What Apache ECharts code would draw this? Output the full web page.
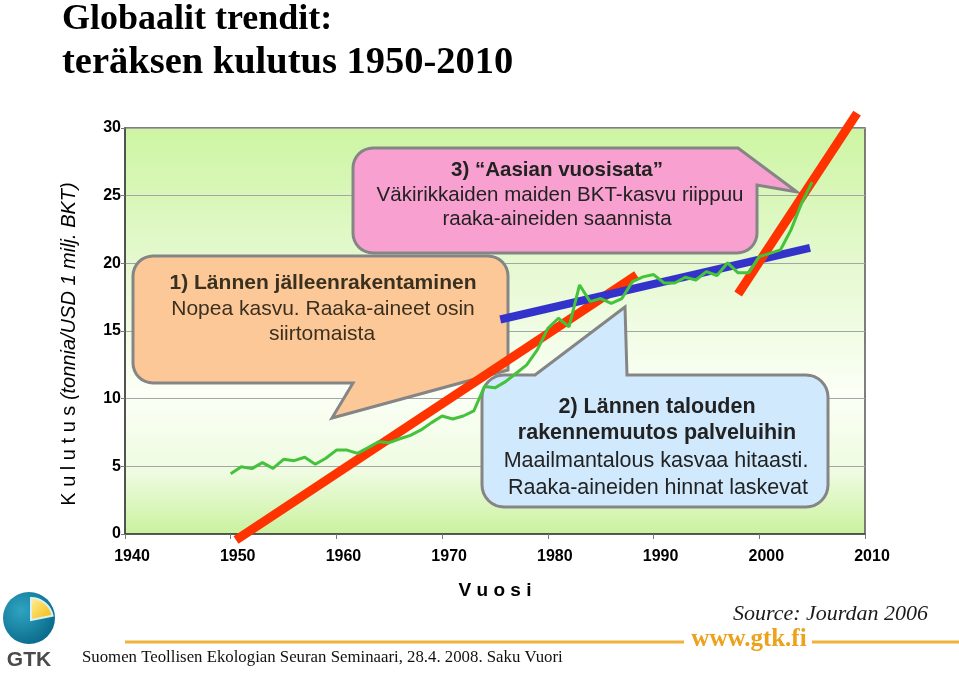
<!DOCTYPE html>
<html><head><meta charset="utf-8">
<script src="https://cdn.jsdelivr.net/npm/echarts@6/dist/echarts.min.js"></script>
<style>html,body{margin:0;padding:0;background:#fff}#c{width:959px;height:673px}</style>
</head><body><div id="c"></div>
<script>
// ---- data ----
const years = [1950,1951,1952,1953,1954,1955,1956,1957,1958,1959,1960,1961,1962,1963,1964,1965,1966,1967,1968,1969,1970,1971,1972,1973,1974,1975,1976,1977,1978,1979,1980,1981,1982,1983,1984,1985,1986,1987,1988,1989,1990,1991,1992,1993,1994,1995,1996,1997,1998,1999,2000,2001,2002,2003,2004,2005];
const consumption = [4.45,4.97,4.83,5.27,4.85,5.52,5.42,5.67,5.15,5.6,6.2,6.2,5.96,6.38,6.82,6.75,7.04,7.29,7.69,8.23,8.72,8.5,8.72,9.1,10.9,10.8,11.26,11.88,12.5,13.6,15.2,15.94,15.3,18.4,17.17,17.4,17.05,17.4,18.65,19.0,19.17,18.55,18.55,18.97,18.77,19.39,19.1,20.04,19.3,19.3,20.5,20.74,20.99,22.47,24.45,26.0];
const trendWest = [[1950.5,-0.44],[1988.4,19.14]];
const trendService = [[1975.5,15.85],[2004.8,21.14]];
const trendAsia = [[1998.0,17.74],[2009.25,31.1]];
const xTicks = {min:1940, max:2010, step:10};
const yTicks = {min:0, max:30, step:5};

const chart = echarts.init(document.getElementById('c'));

function arc(cx, cy, r, a0, a1) {
  const pts = [];
  const n = 8;
  for (let i = 0; i <= n; i++) {
    const a = (a0 + (a1 - a0) * i / n) * Math.PI / 180;
    pts.push([cx + r * Math.cos(a), cy + r * Math.sin(a)]);
  }
  return pts;
}
// callout shapes (annotation graphics)
function orangeShape(){ const x0=133,y0=256,x1=508,y1=383,r=20;
  return [...arc(x0+r,y0+r,r,180,270), ...arc(x1-r,y0+r,r,270,360), [x1,370],[332,418],[353,y1], ...arc(x0+r,y1-r,r,90,180)]; }
function pinkShape(){ const x0=353,y0=148,x1=757,y1=253,r=20;
  return [...arc(x0+r,y0+r,r,180,270), [738,y0],[797,192],[x1,185], ...arc(x1-r,y1-r,r,0,90), ...arc(x0+r,y1-r,r,90,180)]; }
function blueShape(){ const x0=482,y0=375,x1=828,y1=507,r=22;
  return [...arc(x0+r,y0+r,r,180,270), [535,y0],[625,307],[627,y0], ...arc(x1-r,y0+r,r,270,360), ...arc(x1-r,y1-r,r,0,90), ...arc(x0+r,y1-r,r,90,180)]; }

const sans = 'Liberation Sans, Arial, sans-serif';
const serif = 'Liberation Serif, Times New Roman, serif';
function txt(x, y, text, size, weight, color, align, extra) {
  return Object.assign({type:'text', x:x, y:y, z:5, silent:true,
    style:{text:text, fontSize:size, fontWeight:weight||'normal', fontFamily:sans, fill:color||'#2a2a2a', align:align||'center', verticalAlign:'middle'}}, extra||{});
}

const graphics = [
  {type:'polygon', z:1, shape:{points:orangeShape()}, style:{fill:'#fdc897', stroke:'#858585', lineWidth:3}},
  {type:'polygon', z:1, shape:{points:pinkShape()}, style:{fill:'#f8a1d0', stroke:'#858585', lineWidth:3}},
  {type:'polygon', z:1, shape:{points:blueShape()}, style:{fill:'#d0e9fc', stroke:'#858585', lineWidth:3}},
  txt(323, 283, '1) Lännen jälleenrakentaminen', 21, 'bold', '#3a3020'),
  txt(323, 309, 'Nopea kasvu. Raaka-aineet osin', 21, 'normal', '#3a3020'),
  txt(322, 334, 'siirtomaista', 21, 'normal', '#3a3020'),
  txt(557, 170, '3) \u201cAasian vuosisata\u201d', 20.5, 'bold', '#222'),
  txt(560, 195, 'Väkirikkaiden maiden BKT-kasvu riippuu', 20.5, 'normal', '#222'),
  txt(557, 219, 'raaka-aineiden saannista', 20.5, 'normal', '#222'),
  txt(657, 407, '2) Lännen talouden', 21.5, 'bold', '#222'),
  txt(657, 433, 'rakennemuutos palveluihin', 21.5, 'bold', '#222'),
  txt(656, 461, 'Maailmantalous kasvaa hitaasti.', 21.5, 'normal', '#222'),
  txt(658, 488, 'Raaka-aineiden hinnat laskevat', 21.5, 'normal', '#222'),
  // title
  {type:'text', x:62, y:20, z:5, style:{text:'Globaalit trendit:', fontSize:36, fontWeight:'bold', fontFamily:serif, fill:'#000', align:'left', verticalAlign:'middle'}},
  {type:'text', x:62, y:63, z:5, style:{text:'teräksen kulutus 1950-2010', fontSize:38.5, fontWeight:'bold', fontFamily:serif, fill:'#000', align:'left', verticalAlign:'middle'}},
  // footer
  {type:'text', x:928, y:614, z:5, style:{text:'Source: Jourdan 2006', fontSize:22, fontStyle:'italic', fontFamily:serif, fill:'#1a1a1a', align:'right', verticalAlign:'middle'}},
  {type:'line', z:5, shape:{x1:125, y1:642, x2:684, y2:642}, style:{stroke:'#f0b23a', lineWidth:3}},
  {type:'line', z:5, shape:{x1:812, y1:642, x2:959, y2:642}, style:{stroke:'#f0b23a', lineWidth:3}},
  {type:'text', x:749, y:640, z:5, style:{text:'www.gtk.fi', fontSize:25, fontWeight:'bold', fontFamily:serif, fill:'#eca21c', align:'center', verticalAlign:'middle'}},
  {type:'text', x:82, y:658, z:5, style:{text:'Suomen Teollisen Ekologian Seuran Seminaari, 28.4. 2008. Saku Vuori', fontSize:16.8, fontFamily:serif, fill:'#111', align:'left', verticalAlign:'middle'}},
  // GTK logo
  {type:'circle', z:5, shape:{cx:29, cy:618, r:26}, style:{fill:new echarts.graphic.RadialGradient(0.35,0.35,0.8,[{offset:0,color:'#2fa4c2'},{offset:1,color:'#066384'}])}},
  {type:'sector', z:6, shape:{cx:31, cy:620, r:22, r0:0, startAngle:-Math.PI/2, endAngle:-0.2}, style:{fill:new echarts.graphic.LinearGradient(0,0,1,1,[{offset:0,color:'#fff3a0'},{offset:1,color:'#f2b400'}]), stroke:'#d9f0f5', lineWidth:2}},
  {type:'text', x:29, y:660, z:5, style:{text:'GTK', fontSize:21, fontWeight:'bold', fontFamily:sans, fill:'#4a4a4a', align:'center', verticalAlign:'middle'}}
];

const lineSeries = (name, data, color, width, z) => ({
  name: name, type:'line', data: data, showSymbol:false, symbol:'none', clip:false, z:z,
  lineStyle:{color:color, width:width, cap:'butt'}, silent:true, animation:false
});

chart.setOption({
  animation:false,
  grid:{left:125, top:128, width:740, height:406, show:true, borderColor:'#555', borderWidth:1.5,
    backgroundColor:new echarts.graphic.LinearGradient(0,0,0,1,[
      {offset:0,color:'#cdf5a2'},{offset:0.35,color:'#e6f9d2'},{offset:0.65,color:'#fbfff6'},{offset:0.85,color:'#eefbe0'},{offset:1,color:'#c9f29d'}])},
  xAxis:{type:'value', min:xTicks.min, max:xTicks.max, interval:xTicks.step,
    axisLine:{show:true, lineStyle:{color:'#444', width:1.5}},
    axisTick:{show:true, length:5, lineStyle:{color:'#777'}},
    splitLine:{show:false},
    axisLabel:{fontSize:16, fontWeight:'bold', fontFamily:sans, color:'#000', margin:15, padding:[0,0,0,14],
      formatter:function(v){ return String(v); }},
    name:'V u o s i', nameLocation:'middle', nameGap:47,
    nameTextStyle:{fontSize:19, fontWeight:'bold', fontFamily:sans, color:'#000'}},
  yAxis:{type:'value', min:yTicks.min, max:yTicks.max, interval:yTicks.step,
    axisLine:{show:true, lineStyle:{color:'#444', width:1.5}},
    axisTick:{show:true, length:4, lineStyle:{color:'#777'}},
    splitLine:{show:true, lineStyle:{color:'#a5a5a5', width:1}},
    axisLabel:{fontSize:16, fontWeight:'bold', fontFamily:sans, color:'#000', margin:4},
    name:'{a|K u l u t u s }{b|(tonnia/USD 1 milj. BKT)}', nameLocation:'middle', nameGap:46,
    nameTextStyle:{padding:[0,26,0,0], rich:{
      a:{fontSize:20, fontFamily:sans, color:'#000'},
      b:{fontSize:20, fontFamily:sans, fontStyle:'italic', color:'#000'}}}},
  series:[
    lineSeries('Lännen jälleenrakentaminen', trendWest, '#ff3300', 9, 3),
    lineSeries('Palveluihin', trendService, '#3333cc', 8, 3),
    lineSeries('Aasian vuosisata', trendAsia, '#ff3300', 9, 3),
    lineSeries('Teräksen kulutus', years.map((y,i)=>[y, consumption[i]]), '#44c23c', 3, 4)
  ],
  graphic:{elements:graphics}
});
</script>
</body></html>
